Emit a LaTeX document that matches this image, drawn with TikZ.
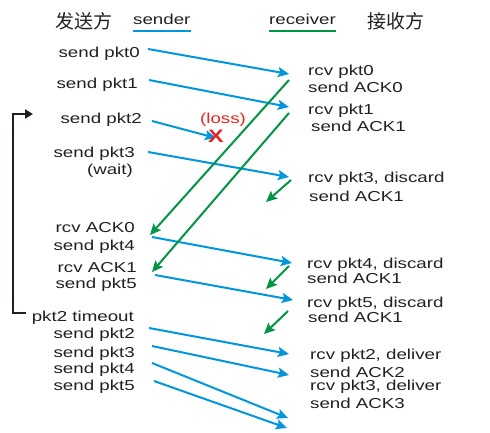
\documentclass[tikz,border=0pt]{standalone}
\usepackage{fontspec}
\setmainfont{Liberation Sans}[FakeStretch=1.3]
\newfontfamily\cjk{Noto Sans CJK SC}
\usetikzlibrary{arrows.meta}
\definecolor{pblue}{RGB}{0,150,222}
\definecolor{pgreen}{RGB}{0,148,68}
\definecolor{pred}{RGB}{232,35,35}
\definecolor{ptext}{RGB}{35,31,32}
\begin{document}
\begin{tikzpicture}[x=1bp,y=-1bp,
  lbl/.style={inner sep=0pt, text=ptext, font=\fontsize{14.4bp}{16bp}\selectfont},
  sl/.style={lbl, anchor=base east},
  rl/.style={lbl, anchor=base west},
  hd/.style={inner sep=0pt, text=ptext, font=\cjk\fontsize{19bp}{21bp}\selectfont},
  tip/.style={-{Stealth[length=11bp,width=10bp,inset=2bp]}},
  pkt/.style={draw=pblue, line width=2bp, tip},
  ack/.style={draw=pgreen, line width=2bp, tip},
  timer/.style={draw=ptext, line width=2.2bp, -{Triangle[length=8bp,width=9bp]}},
]
\useasboundingbox (0,0) rectangle (490,433);

% headers
\node[hd, anchor=west] (hs) at (55,21) {发送方};
\node[rl] (sender) at (133,25) {sender};
\node[rl] (receiver) at (269,25) {receiver};
\node[hd, anchor=west] (hr) at (367,21) {接收方};
\draw[pblue, line width=2bp] (sender.south west |- 0,31) -- (sender.south east |- 0,31);
\draw[pgreen, line width=2bp] (receiver.south west |- 0,31) -- (receiver.south east |- 0,31);

% sender labels
\node[sl] (s0) at (140,58) {send pkt0};
\node[sl] (s1) at (138,89) {send pkt1};
\node[sl] (s2) at (142,124) {send pkt2};
\node[sl] (s3) at (135,158) {send pkt3};
\node[sl] (w3) at (133,175) {(wait)};
\node[sl] (ra0) at (135,233) {rcv ACK0};
\node[sl] (s4) at (135,250) {send pkt4};
\node[sl] (ra1) at (137,272) {rcv ACK1};
\node[sl] (s5) at (137,288) {send pkt5};
\node[sl] (to) at (134,321) {pkt2 timeout};
\node[sl] (r2) at (135,338) {send pkt2};
\node[sl] (r3) at (135,357) {send pkt3};
\node[sl] (r4) at (135,373) {send pkt4};
\node[sl] (r5) at (135,390) {send pkt5};

% receiver labels
\node[rl] (p0) at (308,76) {rcv pkt0};
\node[rl] (k0) at (308,93) {send ACK0};
\node[rl] (p1) at (308,115) {rcv pkt1};
\node[rl] (k1) at (311,132) {send ACK1};
\node[rl] (p3) at (308,183) {rcv pkt3, discard};
\node[rl] (k3) at (309,202) {send ACK1};
\node[rl] (p4) at (307,268) {rcv pkt4, discard};
\node[rl] (k4) at (307,283) {send ACK1};
\node[rl] (p5) at (307,307) {rcv pkt5, discard};
\node[rl] (k5) at (308,322) {send ACK1};
\node[rl] (d2) at (310,359) {rcv pkt2, deliver};
\node[rl] (a2) at (310,377) {send ACK2};
\node[rl] (d3) at (310,390) {rcv pkt3, deliver};
\node[rl] (a3) at (310,408) {send ACK3};

% loss label
\node[inner sep=0pt, text=pred, font=\fontsize{14.4bp}{16bp}\selectfont] (loss) at (223,120) {(loss)};

% arrow end points
\coordinate (a0s) at (148,49);  \coordinate (a0e) at (289,74);
\coordinate (a1s) at (149,80);  \coordinate (a1e) at (289,107);
\coordinate (a2s) at (152,121); \coordinate (a2e) at (216,138);
\coordinate (a3s) at (148,152); \coordinate (a3e) at (289,177);
\coordinate (a4s) at (152,237); \coordinate (a4e) at (292,263);
\coordinate (a5s) at (155,275); \coordinate (a5e) at (293,300);
\coordinate (b2s) at (149,328); \coordinate (b2e) at (289,354);
\coordinate (b3s) at (152,346); \coordinate (b3e) at (289,375);
\coordinate (b4s) at (152,363); \coordinate (b4e) at (288,418);
\coordinate (b5s) at (154,381); \coordinate (b5e) at (287,428);

\coordinate (c0s) at (289,80);  \coordinate (c0e) at (150,235);
\coordinate (c1s) at (289,113); \coordinate (c1e) at (152,272);
\coordinate (c3s) at (291,180); \coordinate (c3e) at (266,202);
\coordinate (c4s) at (289,266); \coordinate (c4e) at (266,289);
\coordinate (c5s) at (288,311); \coordinate (c5e) at (264,334);

\coordinate (tb) at (26,313);
\coordinate (tc1) at (13,313);
\coordinate (tc2) at (13,114);
\coordinate (tt) at (33,114);

% packets
\draw[pkt] (a0s) -- (a0e);
\draw[pkt] (a1s) -- (a1e);
\draw[pkt] (a2s) -- (a2e);
\draw[pkt] (a3s) -- (a3e);
\draw[pkt] (a4s) -- (a4e);
\draw[pkt] (a5s) -- (a5e);
\draw[pkt] (b2s) -- (b2e);
\draw[pkt] (b3s) -- (b3e);
\draw[pkt] (b4s) -- (b4e);
\draw[pkt] (b5s) -- (b5e);

% acks
\draw[ack] (c0s) -- (c0e);
\draw[ack] (c1s) -- (c1e);
\draw[ack] (c3s) -- (c3e);
\draw[ack] (c4s) -- (c4e);
\draw[ack] (c5s) -- (c5e);

% loss mark on top
\node[inner sep=0pt, text=pred, font=\bfseries\fontsize{18bp}{18bp}\selectfont] (lx) at (216,136) {X};

% timer
\draw[timer] (tb) -- (tc1) -- (tc2) -- (tt);
\end{tikzpicture}
\end{document}
